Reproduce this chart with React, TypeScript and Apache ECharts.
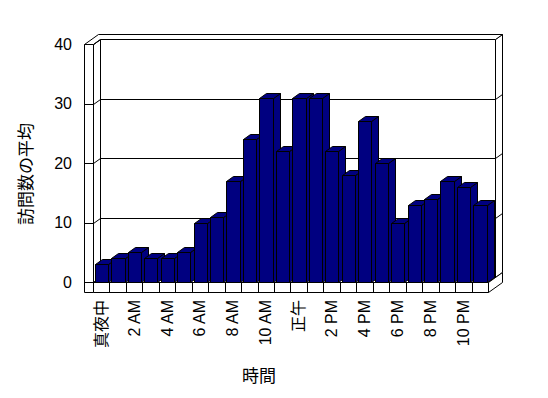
import React, { useEffect, useRef } from 'react';
import * as echarts from 'echarts';

const hours = [
  '真夜中', '1 AM', '2 AM', '3 AM', '4 AM', '5 AM', '6 AM', '7 AM', '8 AM', '9 AM', '10 AM', '11 AM',
  '正午', '1 PM', '2 PM', '3 PM', '4 PM', '5 PM', '6 PM', '7 PM', '8 PM', '9 PM', '10 PM', '11 PM',
];
const visits = [3, 4, 5, 4, 4, 5, 10, 11, 17, 24, 31, 22, 31, 31, 22, 18, 27, 20, 10, 13, 14, 17, 16, 13];
const yTicks = [0, 10, 20, 30, 40];
const yTitle = '訪問数の平均';
const xTitle = '時間';

const DX = 7;
const DY = -5;
const SLAB = 9;
const FLOOR = 10;
const BAR_COLOR = '#000080';
const FONT = '"Liberation Sans", "Noto Sans CJK JP", sans-serif';

const px = (v: number) => Math.round(v) + 0.5;

const lineStyle = { stroke: '#000', lineWidth: 1, fill: null };
const faceStyle = { fill: '#fff', stroke: '#000', lineWidth: 1 };

function poly(points: number[][], style: any) {
  return { type: 'polygon', shape: { points: points.map((p) => [px(p[0]), px(p[1])]) }, style };
}
function seg(x1: number, y1: number, x2: number, y2: number) {
  return { type: 'line', shape: { x1: px(x1), y1: px(y1), x2: px(x2), y2: px(y2) }, style: lineStyle };
}

export default function App() {
  const ref = useRef<HTMLDivElement>(null);
  useEffect(() => {
    if (!ref.current) return;
    const chart = echarts.init(ref.current, null, { renderer: 'svg' });
    const yMax = yTicks[yTicks.length - 1];
    const option: any = {
      animation: false,
      backgroundColor: '#fff',
      grid: { left: 93, right: 60, top: 44, bottom: 116, containLabel: false },
      xAxis: {
        type: 'category',
        data: hours,
        boundaryGap: true,
        axisLine: { show: false },
        axisTick: { show: false },
        splitLine: { show: false },
        axisLabel: {
          interval: 1,
          rotate: 90,
          margin: 18,
          align: 'right',
          verticalAlign: 'middle',
          fontSize: 16,
          fontFamily: FONT,
          color: '#000',
          hideOverlap: false,
        },
      },
      yAxis: {
        type: 'value',
        min: 0,
        max: yMax,
        interval: 10,
        axisLine: { show: false },
        axisTick: { show: false },
        splitLine: { show: false },
        axisLabel: { margin: 21, fontSize: 16, fontFamily: FONT, color: '#000' },
      },
      graphic: [
        {
          type: 'text',
          x: 26,
          y: 174,
          rotation: Math.PI / 2,
          style: {
            text: yTitle,
            fontSize: 17,
            fontFamily: FONT,
            fill: '#000',
            align: 'center',
            verticalAlign: 'middle',
          },
        },
        {
          type: 'text',
          x: 259,
          y: 376,
          style: {
            text: xTitle,
            fontSize: 17,
            fontFamily: FONT,
            fill: '#000',
            align: 'center',
            verticalAlign: 'middle',
          },
        },
      ],
      series: [
        {
          type: 'custom',
          z: 1,
          silent: true,
          data: [[0, 0]],
          renderItem: (params: any, api: any) => {
            const bw = api.size([1, 0])[0];
            const c0 = api.coord([0, 0]);
            const cN = api.coord([hours.length - 1, yMax]);
            const L = c0[0] - bw / 2;
            const R = cN[0] + bw / 2;
            const B = c0[1];
            const T = cN[1];
            const children: any[] = [];
            children.push(poly([[L + DX, T + DY], [R + DX, T + DY], [R + DX, B + DY], [L + DX, B + DY]], faceStyle));
            children.push(poly([[L, T], [L + DX, T + DY], [L + DX, B + DY], [L, B]], faceStyle));
            children.push(poly([[R + DX, T + DY], [R + 2 * DX, T + 2 * DY], [R + 2 * DX, B + 2 * DY], [R + DX, B + DY]], faceStyle));
            children.push(
              poly(
                [
                  [L - SLAB, T],
                  [L, T],
                  [L + DX, T + DY],
                  [R + DX, T + DY],
                  [R + 2 * DX, T + 2 * DY],
                  [L - SLAB + 2 * DX, T + 2 * DY],
                ],
                faceStyle
              )
            );
            children.push(seg(L, T, L + DX, T + DY));
            yTicks.forEach((v) => {
              if (v === 0 || v === yMax) return;
              const y = api.coord([0, v])[1];
              children.push(seg(L + DX, y + DY, R + DX, y + DY));
              children.push(seg(L, y, L + DX, y + DY));
              children.push(seg(R + DX, y + DY, R + 2 * DX, y + 2 * DY));
            });
            children.push(poly([[L, B], [R, B], [R + DX, B + DY], [L + DX, B + DY]], faceStyle));
            children.push(poly([[R, B], [R, B + FLOOR], [R + 2 * DX, B + FLOOR + 2 * DY], [R + 2 * DX, B + 2 * DY]], faceStyle));
            children.push(poly([[L, B], [R, B], [R, B + FLOOR], [L, B + FLOOR]], faceStyle));
            children.push(poly([[L - SLAB, T], [L, T], [L, B + FLOOR], [L - SLAB, B + FLOOR]], faceStyle));
            yTicks.forEach((v) => {
              if (v === yMax) return;
              const y = api.coord([0, v])[1];
              children.push(seg(L - SLAB, y, L, y));
            });
            for (let i = 1; i < hours.length; i++) {
              const x = api.coord([i, 0])[0] - bw / 2;
              children.push(seg(x, B, x, B + FLOOR));
            }
            return { type: 'group', children };
          },
        },
        {
          type: 'custom',
          z: 2,
          data: visits.map((v, i) => [i, v]),
          renderItem: (params: any, api: any) => {
            const i = api.value(0);
            const v = api.value(1);
            const bw = api.size([1, 0])[0];
            const top = api.coord([i, v]);
            const base = api.coord([i, 0]);
            const x0 = top[0] - bw / 2 + 1.8;
            const x1 = x0 + bw - 3.2;
            const yt = top[1];
            const yb = base[1];
            const st = { fill: BAR_COLOR, stroke: '#000', lineWidth: 1 };
            return {
              type: 'group',
              children: [
                poly([[x1, yt], [x1 + DX, yt + DY], [x1 + DX, yb + DY], [x1, yb]], st),
                poly([[x0, yt], [x1, yt], [x1 + DX, yt + DY], [x0 + DX, yt + DY]], st),
                poly([[x0, yt], [x1, yt], [x1, yb], [x0, yb]], st),
              ],
            };
          },
        },
      ],
    };
    chart.setOption(option);
    return () => chart.dispose();
  }, []);
  return (
    <div
      ref={ref}
      style={{ position: 'absolute', left: 0, top: 0, width: 548, height: 398, background: '#fff' }}
    />
  );
}
